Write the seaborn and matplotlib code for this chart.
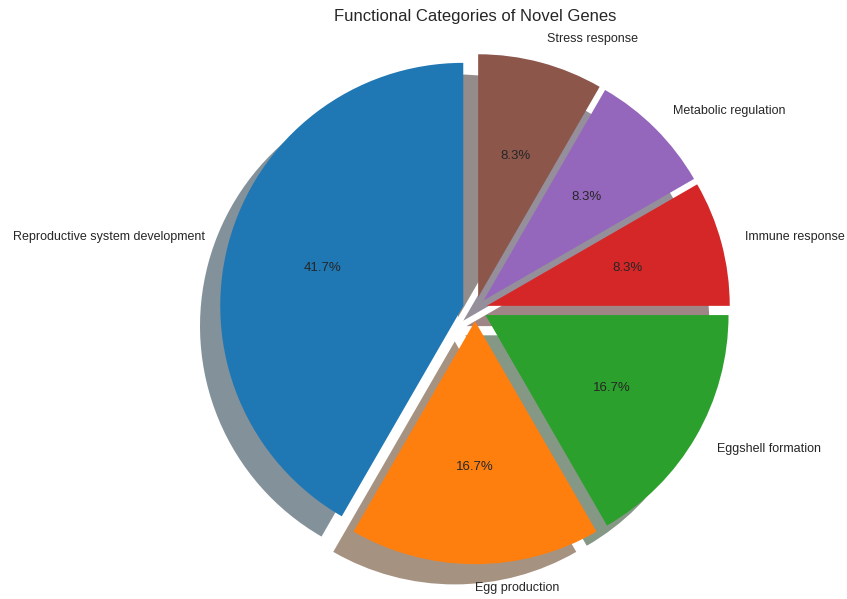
import matplotlib
matplotlib.use("Agg")
import matplotlib.pyplot as plt
import seaborn as sns

categories = ["Reproductive system development", "Egg production", "Eggshell formation",
              "Immune response", "Metabolic regulation", "Stress response"]
counts = [5, 2, 2, 1, 1, 1]
explode = [0.05] * 6

sns.set_theme(style="whitegrid")
plt.rcParams['font.family'] = ['Liberation Sans', 'DejaVu Sans']
colors = sns.color_palette("tab10", 6)

fig = plt.figure(figsize=(8.47, 5.99), dpi=100)
ax = fig.add_axes([0, 0, 1, 1])
wedges, texts, autotexts = ax.pie(
    counts, labels=categories, colors=colors, explode=explode,
    autopct='%1.1f%%', startangle=90, shadow={'ox': -0.06, 'oy': -0.06},
    wedgeprops={'linewidth': 0},
    textprops={'fontsize': 9, 'color': '0.15'})
for t in autotexts:
    t.set_fontsize(9.5)
R = 243.0
cx, cy = 475.0, 599 - 309.0
ax.set_xlim(-cx / R, (847 - cx) / R)
ax.set_ylim(-cy / R, (599 - cy) / R)
ax.set_aspect('auto')
ax.axis('off')
fig.text(475 / 847, 1 - 16 / 599, "Functional Categories of Novel Genes",
         ha='center', va='center', fontsize=12, color='0.15')
fig.savefig("out.png", dpi=100)
